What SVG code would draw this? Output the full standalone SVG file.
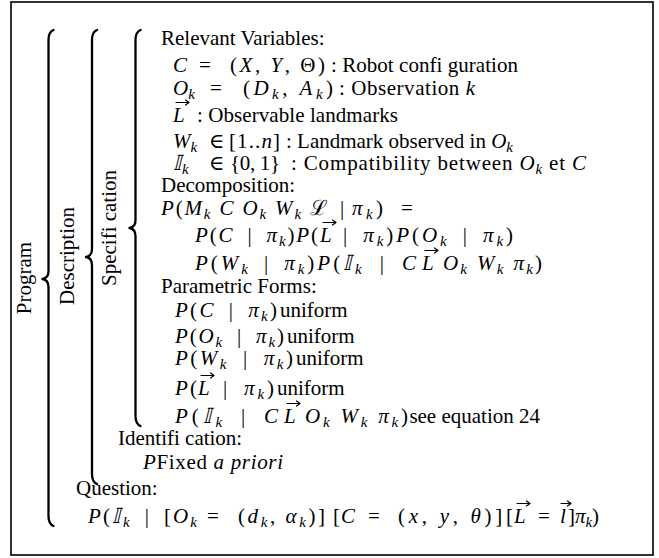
<svg xmlns="http://www.w3.org/2000/svg" width="659" height="558" viewBox="0 0 659 558">
<style>
text{font-family:"Liberation Serif","DejaVu Serif",serif;font-size:21px;fill:#000}
.i{font-style:italic}
.sb{font-size:15px;font-style:italic;baseline-shift:-4px}
.brace{fill:none;stroke:#000;stroke-width:2.3;stroke-linecap:round;stroke-linejoin:round}
.acc{fill:none;stroke:#000;stroke-width:1.2;stroke-linecap:round;stroke-linejoin:round}
</style>
<rect width="659" height="558" fill="#fff"/>
<rect id="frame" x="11" y="2" width="642" height="553" fill="#fff" stroke="#000" stroke-width="1.6"/>
<g id="connectors">
<path id="brace-program" class="brace" d="M53.5,30 Q48.5,32 48.5,40 L48.5,271 Q48.5,278 42.5,279 Q48.5,280 48.5,287 L48.5,516 Q48.5,524 53.5,526"/>
<path id="brace-description" class="brace" d="M97,30 Q92,32 92,40 L92,249 Q92,256 86,257 Q92,258 92,265 L92,474 Q92,482 97,484"/>
<path id="brace-specification" class="brace" d="M140.5,30 Q135.5,32 135.5,40 L135.5,220 Q135.5,227 129.5,228 Q135.5,229 135.5,236 L135.5,416 Q135.5,424 140.5,426"/>
</g>
<g id="program"><text transform="translate(31,278) rotate(-90)" text-anchor="middle">Program</text></g>
<g id="description"><text transform="translate(74,256) rotate(-90)" text-anchor="middle">Description</text></g>
<g id="specification"><text transform="translate(116,228) rotate(-90)" text-anchor="middle">Specifi cation</text></g>
<g id="vector-arrows">
<path class="acc" d="M176,102.5 H189 M185.5,100 L189,102.5 L185.5,105"/>
<path class="acc" d="M323,222.5 H336 M332.5,220 L336,222.5 L332.5,225"/>
<path class="acc" d="M425,250.5 H438 M434.5,248 L438,250.5 L434.5,253"/>
<path class="acc" d="M201,375.5 H214 M210.5,373 L214,375.5 L210.5,378"/>
<path class="acc" d="M287,403.5 H300 M296.5,401 L300,403.5 L296.5,406"/>
<path class="acc" d="M517,503.5 H530 M526.5,501 L530,503.5 L526.5,506"/>
<path class="acc" d="M561,503.5 H571 M567.5,501 L571,503.5 L567.5,506"/>
</g>
<g id="relevant-variables">
<text x="161" y="45">Relevant Variables:</text>
<text class="i" x="173" y="72">C</text>
<text x="199" y="72">=</text>
<text x="230" y="72" textLength="95">(<tspan class="i">X</tspan>, <tspan class="i">Y</tspan>, Θ)</text>
<text x="331" y="72" textLength="187">: Robot confi guration</text>
<text x="173" y="95"><tspan class="i">O</tspan><tspan class="sb">k</tspan></text>
<text x="210" y="95">=</text>
<text x="243" y="95" textLength="90">(<tspan class="i">D</tspan><tspan class="sb">k</tspan>, <tspan class="i">A</tspan><tspan class="sb">k</tspan>)</text>
<text x="339" y="95" textLength="136">: Observation <tspan class="i">k</tspan></text>
<text class="i" x="173" y="122">L</text>
<text x="197" y="122" textLength="201">: Observable landmarks</text>
<text x="173" y="148"><tspan class="i">W</tspan><tspan class="sb">k</tspan></text>
<text x="209" y="148">∈</text>
<text x="229" y="148" textLength="51">[1..<tspan class="i">n</tspan>]</text>
<text x="286" y="148" textLength="227">: Landmark observed in <tspan class="i">O</tspan><tspan class="sb">k</tspan></text>
<text x="173" y="170"><tspan class="i">𝕀</tspan><tspan class="sb" dx="1">k</tspan></text>
<text x="209" y="170">∈</text>
<text x="230" y="170" textLength="50">{0, 1}</text>
<text x="291" y="170" textLength="295">: Compatibility between <tspan class="i">O</tspan><tspan class="sb">k</tspan> et <tspan class="i">C</tspan></text>
</g>
<g id="decomposition">
<text x="161" y="192">Decomposition:</text>
<text x="161" y="215" textLength="167"><tspan class="i">P</tspan>(<tspan class="i">M</tspan><tspan class="sb">k</tspan> <tspan class="i">C O</tspan><tspan class="sb">k</tspan> <tspan class="i">W</tspan><tspan class="sb">k</tspan> ℒ</text>
<text x="340" y="215">|</text>
<text x="352" y="215" textLength="31"><tspan class="i">π</tspan><tspan class="sb">k</tspan>)</text>
<text x="401" y="215">=</text>
<text x="195" y="242" textLength="123"><tspan class="i">P</tspan>(<tspan class="i">C</tspan><tspan dx="13">|</tspan><tspan class="i" dx="13">π</tspan><tspan class="sb">k</tspan>)<tspan class="i">P</tspan>(</text>
<text class="i" x="320" y="242">L</text>
<text x="343" y="242" textLength="170">|<tspan class="i" dx="13">π</tspan><tspan class="sb">k</tspan>)<tspan class="i">P</tspan>(<tspan class="i">O</tspan><tspan class="sb">k</tspan><tspan dx="13">|</tspan><tspan class="i" dx="13">π</tspan><tspan class="sb">k</tspan>)</text>
<text x="195" y="270" textLength="221"><tspan class="i">P</tspan>(<tspan class="i">W</tspan><tspan class="sb">k</tspan><tspan dx="13">|</tspan><tspan class="i" dx="13">π</tspan><tspan class="sb">k</tspan>)<tspan class="i">P</tspan>(<tspan class="i">𝕀</tspan><tspan class="sb" dx="1">k</tspan><tspan dx="15">|</tspan><tspan class="i" dx="15">C</tspan></text>
<text class="i" x="422" y="270">L</text>
<text x="443" y="270" textLength="99"><tspan class="i">O</tspan><tspan class="sb">k</tspan><tspan class="i" dx="8">W</tspan><tspan class="sb">k</tspan><tspan class="i" dx="8">π</tspan><tspan class="sb">k</tspan>)</text>
</g>
<g id="parametric-forms">
<text x="161" y="293">Parametric Forms:</text>
<text x="175" y="317" textLength="102"><tspan class="i">P</tspan>(<tspan class="i">C</tspan><tspan dx="13">|</tspan><tspan class="i" dx="13">π</tspan><tspan class="sb">k</tspan>)</text>
<text x="280" y="317">uniform</text>
<text x="175" y="343" textLength="109"><tspan class="i">P</tspan>(<tspan class="i">O</tspan><tspan class="sb">k</tspan><tspan dx="13">|</tspan><tspan class="i" dx="13">π</tspan><tspan class="sb">k</tspan>)</text>
<text x="287" y="343">uniform</text>
<text x="175" y="365" textLength="118"><tspan class="i">P</tspan>(<tspan class="i">W</tspan><tspan class="sb">k</tspan><tspan dx="14">|</tspan><tspan class="i" dx="14">π</tspan><tspan class="sb">k</tspan>)</text>
<text x="296" y="365">uniform</text>
<text x="175" y="395" textLength="22"><tspan class="i">P</tspan>(</text>
<text class="i" x="198" y="395">L</text>
<text x="223" y="395" textLength="51">|<tspan class="i" dx="14">π</tspan><tspan class="sb">k</tspan>)</text>
<text x="277" y="395">uniform</text>
<text x="175" y="423" textLength="103"><tspan class="i">P</tspan>(<tspan class="i">𝕀</tspan><tspan class="sb" dx="1">k</tspan><tspan dx="15">|</tspan><tspan class="i" dx="15">C</tspan></text>
<text class="i" x="284" y="423">L</text>
<text x="305" y="423" textLength="103"><tspan class="i">O</tspan><tspan class="sb">k</tspan><tspan class="i" dx="8">W</tspan><tspan class="sb">k</tspan><tspan class="i" dx="8">π</tspan><tspan class="sb">k</tspan>)</text>
<text x="540" y="423" text-anchor="end">see equation 24</text>
</g>
<g id="identification">
<text x="118" y="445">Identifi cation:</text>
<text x="143" y="469" textLength="140"><tspan class="i">P</tspan>Fixed <tspan class="i">a priori</tspan></text>
</g>
<g id="question">
<text x="76" y="495">Question:</text>
<text x="88" y="523" textLength="109"><tspan class="i">P</tspan>(<tspan class="i">𝕀</tspan><tspan class="sb" dx="1">k</tspan><tspan dx="13">|</tspan><tspan dx="13">[</tspan><tspan class="i">O</tspan><tspan class="sb">k</tspan></text>
<text x="207" y="523">=</text>
<text x="238" y="523" textLength="87">(<tspan class="i">d</tspan><tspan class="sb">k</tspan>, <tspan class="i">α</tspan><tspan class="sb">k</tspan>)]</text>
<text x="333" y="523" textLength="22">[<tspan class="i">C</tspan></text>
<text x="368" y="523">=</text>
<text x="398" y="523" textLength="115">(<tspan class="i">x</tspan>, <tspan class="i">y</tspan>, <tspan class="i">θ</tspan>)][</text>
<text class="i" x="514" y="523">L</text>
<text x="538" y="523">=</text>
<text class="i" x="560" y="523">l</text>
<text x="568" y="523" textLength="31">]<tspan class="i">π</tspan><tspan class="sb">k</tspan>)</text>
</g>
</svg>
